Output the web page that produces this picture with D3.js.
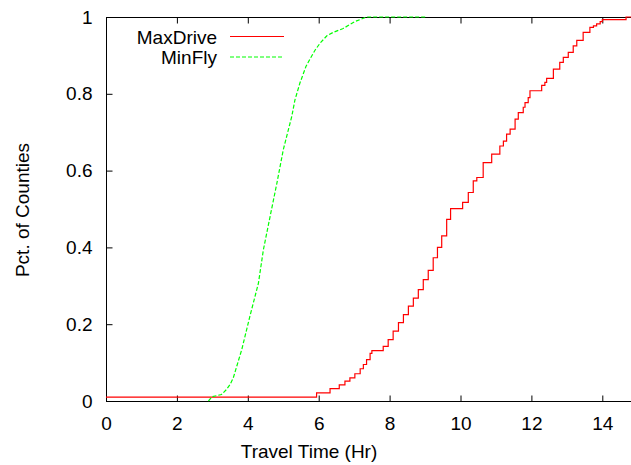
<!DOCTYPE html>
<html>
<head>
<meta charset="UTF-8">
<title>travel_time_cdf</title>
<style type="text/css">
	body { margin: 0; background: #fff; }
	text { font-family: "Liberation Sans", Arial, sans-serif; font-size: 19px; fill: #000; }
	.axis path { display: none; }
	.axis line { stroke: #000; }
</style>
<script type="text/javascript" src="https://d3js.org/d3.v7.min.js"></script>
</head>
<body>
<div id="div_main"></div>
<script type="text/javascript">

	// MaxDrive: stepped CDF
	var driveHours = [0, 5.94, 6.32, 6.58, 6.74, 6.88, 7.02, 7.17, 7.26, 7.35, 7.45, 7.50, 7.82, 7.96, 8.10, 8.25, 8.39, 8.53, 8.67, 8.81, 8.95, 9.09, 9.23, 9.35, 9.47, 9.61, 9.72, 10.06, 10.22, 10.36, 10.46, 10.64, 10.88, 11.11, 11.21, 11.30, 11.40, 11.54, 11.63, 11.77, 11.82, 11.91, 11.96, 12.29, 12.38, 12.43, 12.62, 12.80, 12.90, 13.04, 13.18, 13.28, 13.46, 13.65, 13.75, 13.84, 13.94, 14.00, 14.67, 15];
	var driveFrac  = [0.01, 0.021, 0.032, 0.042, 0.052, 0.060, 0.071, 0.084, 0.095, 0.108, 0.124, 0.131, 0.142, 0.160, 0.182, 0.204, 0.225, 0.247, 0.268, 0.290, 0.316, 0.340, 0.373, 0.40, 0.43, 0.473, 0.501, 0.517, 0.543, 0.573, 0.582, 0.621, 0.643, 0.664, 0.677, 0.695, 0.708, 0.734, 0.751, 0.765, 0.777, 0.790, 0.808, 0.822, 0.830, 0.840, 0.864, 0.882, 0.895, 0.908, 0.925, 0.939, 0.960, 0.973, 0.977, 0.982, 0.988, 0.993, 1.0, 1.0];

	// MinFly
	var flyHours = [2.89, 2.99, 3.26, 3.40, 3.50, 3.59, 3.83, 4.06, 4.30, 4.44, 4.63, 4.82, 5.00, 5.24, 5.33, 5.47, 5.64, 5.75, 5.90, 6.04, 6.23, 6.41, 6.69, 7.02, 7.35, 9.05];
	var flyFrac  = [0, 0.011, 0.017, 0.030, 0.043, 0.060, 0.134, 0.221, 0.307, 0.394, 0.481, 0.567, 0.654, 0.741, 0.784, 0.828, 0.871, 0.890, 0.914, 0.932, 0.951, 0.960, 0.970, 0.988, 1.0, 1.0];

	var xTicks = [0, 2, 4, 6, 8, 10, 12, 14];
	var yTicks = [0, 0.2, 0.4, 0.6, 0.8, 1];
	var seriesNames = ["MaxDrive", "MinFly"];

	var svg_w = 631, svg_h = 465;
	var padLeft = 106, padTop = 17, padBottom = 401, padRight = 106 + 15 * 35.45;

	var svg = d3.select("#div_main")
				.append("svg")
					.attr("width", svg_w)
					.attr("height", svg_h);

	var scaleX = d3.scaleLinear().domain([0, 15]).range([padLeft, padRight]);
	var scaleY = d3.scaleLinear().domain([0, 1]).range([padBottom, padTop]);

	// ticks on all four sides, pointing in (gnuplot style)
	svg.append("g").attr("class", "x axis")
		.attr("transform", "translate(0," + (padBottom + 0.5) + ")")
		.call(d3.axisBottom(scaleX).tickValues(xTicks).tickSizeInner(-6).tickSizeOuter(0).tickPadding(15.5).tickFormat(d3.format("d")));
	svg.append("g").attr("class", "x axis")
		.attr("transform", "translate(0," + (padTop + 0.5) + ")")
		.call(d3.axisTop(scaleX).tickValues(xTicks).tickSizeInner(-6).tickSizeOuter(0).tickFormat(""));
	svg.append("g").attr("class", "y axis")
		.attr("transform", "translate(" + (padLeft + 0.5) + ",0)")
		.call(d3.axisLeft(scaleY).tickValues(yTicks).tickSizeInner(-6).tickSizeOuter(0).tickPadding(14).tickFormat(function (d) { return String(+d.toFixed(1)); }));
	svg.append("g").attr("class", "y axis")
		.attr("transform", "translate(" + (padRight + 0.5) + ",0)")
		.call(d3.axisRight(scaleY).tickValues(yTicks).tickSizeInner(-6).tickSizeOuter(0).tickFormat(""));

	svg.selectAll(".axis text").attr("font-size", "19px").attr("font-family", "Liberation Sans, Arial, sans-serif");

	// border
	svg.append("rect")
		.attr("x", padLeft + 0.5).attr("y", padTop + 0.5)
		.attr("width", padRight - padLeft).attr("height", padBottom - padTop)
		.attr("fill", "none").attr("stroke", "#000").attr("stroke-width", 1);

	var drive = driveHours.map(function (d, i) { return [d, driveFrac[i]]; });
	var fly = flyHours.map(function (d, i) { return [d, flyFrac[i]]; });

	var stepLine = d3.line()
		.x(function (d) { return scaleX(d[0]); })
		.y(function (d) { return scaleY(d[1]); })
		.curve(d3.curveStepAfter);
	var smoothLine = d3.line()
		.x(function (d) { return scaleX(d[0]); })
		.y(function (d) { return scaleY(d[1]); });

	svg.append("path").datum(drive)
		.attr("d", stepLine)
		.attr("fill", "none").attr("stroke", "#ff0000").attr("stroke-width", 1.2);

	svg.append("path").datum(fly)
		.attr("d", smoothLine)
		.attr("fill", "none").attr("stroke", "#00ff00").attr("stroke-width", 1.2)
		.attr("stroke-dasharray", "4,2");

	// legend
	var legendColors = ["#ff0000", "#00ff00"];
	var legendDash = [null, "4,2"];
	seriesNames.forEach(function (name, i) {
		var ly = 36.5 + i * 20.5;
		svg.append("text")
			.attr("x", 217).attr("y", ly + 7)
			.attr("text-anchor", "end")
			.text(name);
		svg.append("line")
			.attr("x1", 230).attr("x2", 284)
			.attr("y1", ly).attr("y2", ly)
			.attr("stroke", legendColors[i]).attr("stroke-width", 1.2)
			.attr("stroke-dasharray", legendDash[i]);
	});

	// axis titles
	svg.append("text")
		.attr("x", 309).attr("y", 458)
		.attr("text-anchor", "middle")
		.text("Travel Time (Hr)");

	svg.append("text")
		.attr("transform", "translate(29," + 210 + ") rotate(-90)")
		.attr("text-anchor", "middle")
		.text("Pct. of Counties");

</script>
</body>
</html>
